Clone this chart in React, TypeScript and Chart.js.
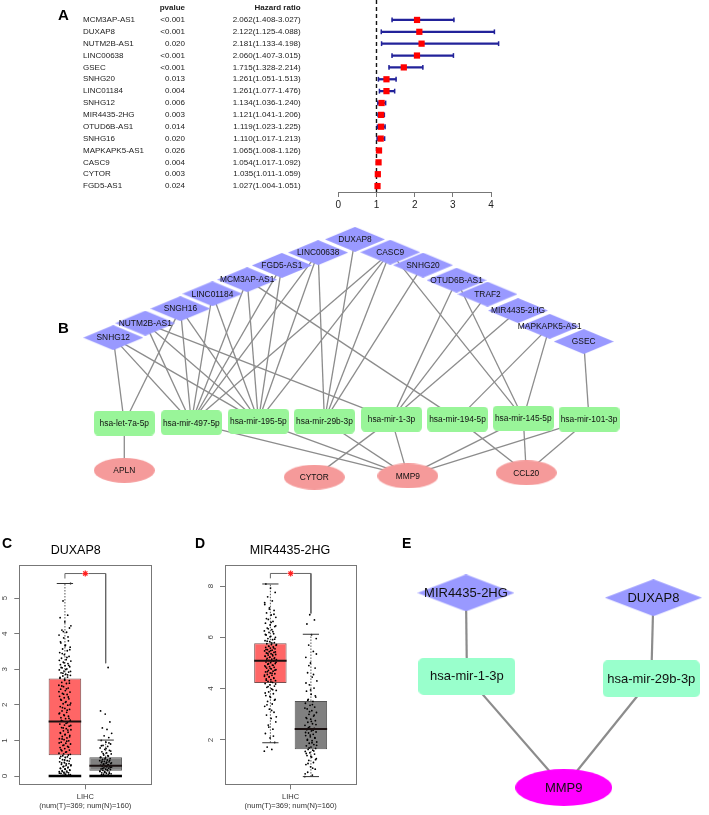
import React, { useEffect, useRef } from 'react';
import { Chart, registerables } from 'chart.js';
Chart.register(...registerables);

const FONT = '"Liberation Sans", Arial, Helvetica, sans-serif';

// ---------------- Panel A : forest plot ----------------
const forestGenes = ['MCM3AP-AS1','DUXAP8','NUTM2B-AS1','LINC00638','GSEC','SNHG20','LINC01184','SNHG12','MIR4435-2HG','OTUD6B-AS1','SNHG16','MAPKAPK5-AS1','CASC9','CYTOR','FGD5-AS1'];
const forestPvalues = ['<0.001','<0.001','0.020','<0.001','<0.001','0.013','0.004','0.006','0.003','0.014','0.020','0.026','0.004','0.003','0.024'];
const forestHR = [2.062,2.122,2.181,2.060,1.715,1.261,1.261,1.134,1.121,1.119,1.110,1.065,1.054,1.035,1.027];
const forestLow = [1.408,1.125,1.133,1.407,1.328,1.051,1.077,1.036,1.041,1.023,1.017,1.008,1.017,1.011,1.004];
const forestHigh = [3.027,4.088,4.198,3.015,2.214,1.513,1.476,1.240,1.206,1.225,1.213,1.126,1.092,1.059,1.051];
const forestTicks = [0,1,2,3,4];

// ---------------- Panel B : ceRNA network ----------------
const lncNamesB = ['SNHG12','NUTM2B-AS1','SNGH16','LINC01184','MCM3AP-AS1','FGD5-AS1','LINC00638','DUXAP8','CASC9','SNHG20','OTUD6B-AS1','TRAF2','MIR4435-2HG','MAPKAPK5-AS1','GSEC'];
const lncXB = [109.8,142.3,177.9,210.4,245.6,280.8,317.6,355,390.7,424,458,489.4,520.4,552.5,587];
const lncYB = [336.7,321.7,306.7,291.3,276.7,262,248.7,235,248.3,261.7,277.3,291.7,308.7,325,340.7];
const mirNamesB = ['hsa-let-7a-5p','hsa-mir-497-5p','hsa-mir-195-5p','hsa-mir-29b-3p','hsa-mir-1-3p','hsa-mir-194-5p','hsa-mir-145-5p','hsa-mir-101-3p'];
const mirXB = [121,189,257,324,392,459,525.7,592.4];
const mirYB = [425,424.7,423,423,421,421,420,421];
const mrnaNamesB = ['APLN','CYTOR','MMP9','CCL20'];
const mrnaXB = [121,313.7,408.6,528.7];
const mrnaYB = [474,481,479.7,476.5];
const edgesB: [string, string][] = [
  ['SNHG12','hsa-let-7a-5p'],['SNGH16','hsa-let-7a-5p'],
  ['SNHG12','hsa-mir-497-5p'],['NUTM2B-AS1','hsa-mir-497-5p'],['SNGH16','hsa-mir-497-5p'],['LINC01184','hsa-mir-497-5p'],
  ['MCM3AP-AS1','hsa-mir-497-5p'],['FGD5-AS1','hsa-mir-497-5p'],['LINC00638','hsa-mir-497-5p'],['CASC9','hsa-mir-497-5p'],
  ['SNHG12','hsa-mir-195-5p'],['NUTM2B-AS1','hsa-mir-195-5p'],['SNGH16','hsa-mir-195-5p'],['LINC01184','hsa-mir-195-5p'],
  ['MCM3AP-AS1','hsa-mir-195-5p'],['FGD5-AS1','hsa-mir-195-5p'],['LINC00638','hsa-mir-195-5p'],['CASC9','hsa-mir-195-5p'],
  ['LINC00638','hsa-mir-29b-3p'],['DUXAP8','hsa-mir-29b-3p'],['CASC9','hsa-mir-29b-3p'],['SNHG20','hsa-mir-29b-3p'],
  ['NUTM2B-AS1','hsa-mir-1-3p'],['OTUD6B-AS1','hsa-mir-1-3p'],['TRAF2','hsa-mir-1-3p'],['MIR4435-2HG','hsa-mir-1-3p'],
  ['MCM3AP-AS1','hsa-mir-194-5p'],['MAPKAPK5-AS1','hsa-mir-194-5p'],
  ['CASC9','hsa-mir-145-5p'],['OTUD6B-AS1','hsa-mir-145-5p'],['MAPKAPK5-AS1','hsa-mir-145-5p'],
  ['GSEC','hsa-mir-101-3p'],
  ['hsa-let-7a-5p','APLN'],['hsa-mir-497-5p','MMP9'],['hsa-mir-195-5p','MMP9'],['hsa-mir-29b-3p','MMP9'],
  ['hsa-mir-1-3p','CYTOR'],['hsa-mir-1-3p','MMP9'],['hsa-mir-194-5p','CCL20'],['hsa-mir-145-5p','MMP9'],
  ['hsa-mir-145-5p','CCL20'],['hsa-mir-101-3p','MMP9'],['hsa-mir-101-3p','CCL20'],
];

// ---------------- Panel C / D : expression box plots ----------------
// five-number summaries: [lower whisker, Q1, median, Q3, upper whisker]
const duxTumorBox = [0, 0.58, 1.53, 2.74, 5.41];
const duxNormalBox = [0, 0.15, 0.29, 0.53, 1.01];
const duxTicks = [0,1,2,3,4,5];
const duxTumorDots = [0,0,0,0,0,0,0.01,0.02,0.04,0.05,0.07,0.09,0.1,0.12,0.14,0.15,0.17,0.2,0.22,0.23,0.26,0.29,0.3,0.33,0.35,0.38,0.4,0.43,0.46,0.49,0.52,0.55,
  0.59,0.62,0.64,0.68,0.71,0.73,0.77,0.8,0.83,0.86,0.9,0.92,0.95,0.99,1.02,1.05,1.07,1.11,1.14,1.17,1.2,1.23,1.27,1.3,1.33,1.36,1.4,1.43,1.46,1.5,
  1.54,1.57,1.61,1.64,1.68,1.72,1.75,1.79,1.83,1.87,1.9,1.95,1.99,2.03,2.05,2.09,2.13,2.17,2.2,2.24,2.29,2.32,2.36,2.4,2.44,2.47,2.51,2.55,2.6,2.63,2.68,2.72,
  2.75,2.78,2.81,2.83,2.86,2.9,2.92,2.95,2.98,3.01,3.04,3.07,3.1,3.13,3.16,3.2,3.23,3.27,3.31,3.36,3.41,3.47,3.52,3.57,3.62,3.68,3.74,3.8,3.88,3.96,4.04,4.1,4.16,4.33,4.45,4.52,4.92,5.41,
  0,0,0.03,0.06,0.08,0.11,0.13,0.16,0.19,0.21,0.25,0.27,0.31,0.34,0.37,0.42,0.45,0.5,0.54,0.57,0.61,0.67,0.74,0.81,0.87,0.93,0.98,1.04,1.1,1.16,1.22,1.29,1.35,
  1.42,1.48,1.56,1.62,1.7,1.77,1.85,1.92,2.0,2.07,2.15,2.22,2.3,2.37,2.45,2.53,2.61,2.69,2.77,2.84,2.89,2.94,2.99,3.05,3.11,3.18,3.25,3.33,3.44,3.55,3.66,3.77,3.91,4.06,4.22];
const duxNormalDots = [0,0,0,0,0,0.01,0.03,0.05,0.06,0.08,0.09,0.11,0.12,0.14,0.15,0.16,0.18,0.19,0.2,0.22,0.23,0.25,0.26,0.27,0.28,0.29,0.3,0.32,0.33,0.35,0.36,0.38,
  0.4,0.41,0.43,0.45,0.47,0.49,0.51,0.53,0.56,0.59,0.62,0.65,0.68,0.72,0.75,0.79,0.83,0.86,0.9,0.95,1.0,1.08,1.13,1.2,1.31,1.35,1.52,1.74,1.83,3.05,
  0,0,0.02,0.04,0.07,0.1,0.13,0.17,0.21,0.24,0.27,0.3,0.31,0.34,0.37,0.39,0.42,0.44,0.48,0.52,0.57,0.63,0.7,0.77,0.85,0.93];
const mirTumorBox = [1.89, 4.22, 5.09, 5.77, 8.08];
const mirNormalBox = [0.57, 1.64, 2.43, 3.52, 6.12];
const mirTicks = [2,4,6,8];
const mirTumorDots = [1.56,1.63,1.72,1.9,2.08,2.25,2.42,2.58,2.7,2.84,2.97,3.08,3.2,3.31,3.4,3.5,3.58,3.66,3.73,3.8,3.87,3.93,3.99,4.05,4.1,4.15,4.2,
  4.24,4.28,4.31,4.35,4.38,4.42,4.45,4.48,4.52,4.55,4.58,4.61,4.65,4.68,4.71,4.74,4.77,4.8,4.83,4.86,4.89,4.92,4.95,4.98,5.01,5.04,5.07,
  5.1,5.13,5.15,5.18,5.2,5.23,5.26,5.28,5.31,5.33,5.36,5.39,5.41,5.44,5.47,5.5,5.52,5.55,5.58,5.61,5.63,5.66,5.69,5.72,5.75,
  5.79,5.83,5.87,5.91,5.95,6.0,6.04,6.09,6.14,6.19,6.25,6.3,6.36,6.42,6.48,6.55,6.62,6.7,6.78,6.87,6.95,7.05,7.15,7.28,7.42,7.58,7.75,7.92,8.08,
  2.15,2.5,2.9,3.15,3.37,3.55,3.7,3.83,3.96,4.08,4.18,4.26,4.33,4.4,4.47,4.53,4.6,4.66,4.72,4.79,4.85,4.91,4.97,5.03,5.08,5.12,5.17,5.22,5.27,5.32,
  5.37,5.43,5.48,5.53,5.59,5.65,5.71,5.78,5.85,5.93,6.02,6.11,6.22,6.33,6.45,6.58,6.73,6.9,7.1,7.35];
const mirNormalDots = [0.57,0.63,0.74,0.86,0.95,1.04,1.12,1.2,1.27,1.33,1.39,1.45,1.5,1.55,1.6,1.63,
  1.67,1.72,1.77,1.82,1.87,1.92,1.97,2.02,2.07,2.12,2.17,2.22,2.27,2.31,2.35,2.4,
  2.45,2.51,2.57,2.63,2.69,2.75,2.81,2.87,2.93,3.0,3.07,3.14,3.21,3.28,3.35,3.43,3.5,
  3.58,3.67,3.78,3.9,4.02,4.15,4.3,4.45,4.62,4.8,5.0,5.22,5.45,5.7,5.95,6.1,6.52,6.68,6.88,
  0.68,0.9,1.08,1.23,1.36,1.47,1.57,1.69,1.79,1.89,1.99,2.09,2.19,2.29,2.38,2.48,2.6,2.72,2.84,2.97,3.1,3.24,3.38,3.55,3.72,3.95,4.22,4.55,4.9,5.35];
const boxXLabel = ['LIHC', '(num(T)=369; num(N)=160)'];
// significance bracket: [bar height, left arm end, right arm end]
const duxBracket = [5.69, 5.55, 3.17];
const mirBracket = [8.49, 8.3, 6.93];

// ---------------- Panel E : sub-network ----------------
const lncNamesE = ['MIR4435-2HG','DUXAP8'];
const lncXE = [463, 656.7];
const lncYE = [590, 595];
const mirNamesE = ['hsa-mir-1-3p','hsa-mir-29b-3p'];
const mirXE = [464, 654.5];
const mirYE = [676.5, 679];
const mrnaNamesE = ['MMP9'];
const mrnaXE = [564];
const mrnaYE = [791.7];
const edgesE: [string, string][] = [
  ['MIR4435-2HG','hsa-mir-1-3p'],['DUXAP8','hsa-mir-29b-3p'],['hsa-mir-1-3p','MMP9'],['hsa-mir-29b-3p','MMP9'],
];

// ---------------- helpers ----------------
function makeShape(kind: string, w: number, h: number, fill: string) {
  const c = document.createElement('canvas');
  c.width = w; c.height = h;
  const ctx = c.getContext('2d')!;
  ctx.fillStyle = fill;
  ctx.beginPath();
  if (kind === 'diamond') {
    ctx.moveTo(w / 2, 0); ctx.lineTo(w, h / 2); ctx.lineTo(w / 2, h); ctx.lineTo(0, h / 2); ctx.closePath();
  } else if (kind === 'rect') {
    (ctx as any).roundRect(0, 0, w, h, Math.min(5, h / 6));
  } else {
    ctx.ellipse(w / 2, h / 2, w / 2, h / 2, 0, 0, Math.PI * 2);
  }
  ctx.fill();
  return c;
}

const nodeLabelPlugin = {
  id: 'nodeLabels',
  afterDatasetsDraw(chart: any) {
    const ctx = chart.ctx;
    ctx.save();
    chart.data.datasets.forEach((ds: any, i: number) => {
      if (!ds.labels) return;
      const meta = chart.getDatasetMeta(i);
      ctx.font = `${ds.labelSize}px ${FONT}`;
      ctx.fillStyle = '#111';
      ctx.textAlign = 'center';
      ctx.textBaseline = 'middle';
      meta.data.forEach((el: any, j: number) => ctx.fillText(ds.labels[j], el.x, el.y + 0.5));
    });
    ctx.restore();
  },
};

function networkConfig(groups: any[], edges: [string, string][], bounds: number[], edgeWidth: number, fontSize: number) {
  const pos: Record<string, { x: number; y: number }> = {};
  groups.forEach((g) => g.names.forEach((n: string, i: number) => { pos[n] = { x: g.xs[i], y: g.ys[i] }; }));
  const edgeSets = edges.map(([a, b]) => ({
    type: 'line', data: [pos[a], pos[b]], borderColor: '#8c8c8c', borderWidth: edgeWidth,
    pointRadius: 0, fill: false, order: 10, clip: false,
  }));
  const nodeSets = groups.map((g) => ({
    type: 'scatter',
    data: g.names.map((n: string, i: number) => ({ x: g.xs[i], y: g.ys[i] })),
    pointStyle: makeShape(g.kind, g.w, g.h, g.color),
    pointRadius: 4, order: 1, clip: false,
    labels: g.names, labelSize: fontSize,
  }));
  return {
    type: 'scatter',
    data: { datasets: [...edgeSets, ...nodeSets] },
    options: {
      responsive: false, animation: false, events: [],
      layout: { padding: 0 },
      plugins: { legend: { display: false }, tooltip: { enabled: false } },
      scales: {
        x: { type: 'linear', display: false, min: bounds[0], max: bounds[1] },
        y: { type: 'linear', display: false, min: bounds[2], max: bounds[3], reverse: true },
      },
    },
    plugins: [nodeLabelPlugin],
  };
}

function forestConfig() {
  const navy = '#22229a';
  const forestPlugin = {
    id: 'forestDeco',
    beforeDatasetsDraw(chart: any) {
      const { ctx, chartArea, scales } = chart;
      const xs = scales.x; const ys = scales.y;
      ctx.save();
      const x1 = xs.getPixelForValue(1);
      ctx.setLineDash([4, 3]); ctx.strokeStyle = '#111'; ctx.lineWidth = 1.4;
      ctx.beginPath(); ctx.moveTo(x1, 0); ctx.lineTo(x1, chartArea.bottom); ctx.stroke();
      ctx.setLineDash([]); ctx.strokeStyle = '#777'; ctx.lineWidth = 1;
      ctx.beginPath();
      ctx.moveTo(Math.round(xs.getPixelForValue(forestTicks[0])), Math.round(chartArea.bottom) + 0.5);
      ctx.lineTo(Math.round(xs.getPixelForValue(forestTicks[forestTicks.length - 1])) + 0.5, Math.round(chartArea.bottom) + 0.5);
      ctx.stroke();
      ctx.fillStyle = '#222'; ctx.font = `8px ${FONT}`; ctx.textBaseline = 'middle';
      forestGenes.forEach((g, i) => {
        const py = ys.getPixelForValue(i);
        ctx.textAlign = 'left'; ctx.fillText(g, 83, py);
        ctx.textAlign = 'right'; ctx.fillText(forestPvalues[i], 185, py);
        ctx.fillText(`${forestHR[i].toFixed(3)}(${forestLow[i].toFixed(3)}-${forestHigh[i].toFixed(3)})`, 300.7, py);
      });
      ctx.font = `bold 8px ${FONT}`; ctx.textAlign = 'right';
      ctx.fillText('pvalue', 185, 7.5);
      ctx.fillText('Hazard ratio', 300.7, 7.5);
      ctx.restore();
    },
  };
  return {
    type: 'bar',
    data: {
      labels: forestGenes,
      datasets: [
        { type: 'scatter', data: forestGenes.map((g, i) => ({ x: forestHR[i], y: g })), pointStyle: 'rect',
          pointRadius: 4.4, pointBackgroundColor: '#ff0000', pointBorderWidth: 0, order: 1, clip: false },
        { type: 'scatter', data: forestGenes.flatMap((g, i) => [{ x: forestLow[i], y: g }, { x: forestHigh[i], y: g }]),
          pointStyle: 'line', pointRotation: 90, pointRadius: 2.4, pointBorderColor: navy, pointBorderWidth: 1.5, order: 2, clip: false },
        { type: 'bar', data: forestGenes.map((g, i) => [forestLow[i], forestHigh[i]]), backgroundColor: navy,
          barThickness: 1.6, borderWidth: 0, order: 3, clip: false },
      ],
    },
    options: {
      indexAxis: 'y', responsive: false, animation: false, events: [],
      layout: { padding: { left: 338.3, right: 208.4, top: 14, bottom: 2 } },
      plugins: { legend: { display: false }, tooltip: { enabled: false } },
      scales: {
        x: {
          type: 'linear', min: 0, max: 4.25,
          afterBuildTicks: (s: any) => { s.ticks = forestTicks.map((v) => ({ value: v })); },
          border: { display: false },
          grid: { display: true, drawOnChartArea: false, drawTicks: true, tickLength: 5, color: '#777', offset: false },
          ticks: { font: { family: FONT, size: 10 }, color: '#222', padding: 2, maxRotation: 0, autoSkip: false },
        },
        y: { type: 'category', display: false, offset: true, grid: { offset: true } },
      },
    },
    plugins: [forestPlugin],
  };
}

function boxConfig(tBox: number[], nBox: number[], tDots: number[], nDots: number[], yMin: number, yMax: number,
  yTicks: number[], bracket: number[], wideBottom: boolean) {
  const seg = (pts: any[], color: string, width: number, order: number, dash: number[] = []) => ({
    type: 'line', data: pts, borderColor: color, borderWidth: width, borderDash: dash,
    pointRadius: 0, fill: false, order, clip: false,
  });
  const boxes = [tBox, nBox];
  const centers = [1, 2];
  const sets: any[] = [];
  sets.push({
    type: 'bar', data: boxes.map((b, i) => ({ x: centers[i], y: [b[1], b[3]] })),
    backgroundColor: ['#ff6666', '#808080'], borderColor: ['#7a5050', '#555555'], borderWidth: 1,
    borderSkipped: false, barPercentage: 0.8, categoryPercentage: 1, order: 20,
  });
  boxes.forEach((b, i) => {
    const c = centers[i];
    sets.push(seg([{ x: c, y: b[3] }, { x: c, y: b[4] }], '#555', 1, 15, [1.5, 1.5]));
    sets.push(seg([{ x: c, y: b[0] }, { x: c, y: b[1] }], '#555', 1, 15, [1.5, 1.5]));
    sets.push(seg([{ x: c - 0.4, y: b[2] }, { x: c + 0.4, y: b[2] }], '#1a1010', 2, 2));
    sets.push(seg([{ x: c - 0.2, y: b[4] }, { x: c + 0.2, y: b[4] }], '#333', 1, 2));
    if (wideBottom) sets.push(seg([{ x: c - 0.4, y: b[0] }, { x: c + 0.4, y: b[0] }], '#000', 2.5, 2));
    else sets.push(seg([{ x: c - 0.2, y: b[0] }, { x: c + 0.2, y: b[0] }], '#333', 1, 2));
  });
  const dots = [tDots, nDots];
  dots.forEach((d, i) => {
    sets.push({
      type: 'scatter',
      data: d.map((v, k) => ({ x: centers[i] + (((k * 0.6180339887) % 1) - 0.5) * 0.3, y: v })),
      pointRadius: 0.9, pointBackgroundColor: '#000', pointBorderWidth: 0, order: 5,
    });
  });
  sets.push(seg([{ x: 1, y: bracket[1] }, { x: 1, y: bracket[0] }, { x: 1.42, y: bracket[0] }], '#666', 1, 3));
  sets.push(seg([{ x: 1.58, y: bracket[0] }, { x: 2, y: bracket[0] }, { x: 2, y: bracket[2] }], '#666', 1, 3));
  sets.push({ type: 'scatter', data: [{ x: 1.5, y: bracket[0] }], pointStyle: 'star', pointRadius: 3,
    pointBorderColor: '#ff2222', pointBorderWidth: 1.2, order: 0 });

  const rotYPlugin = {
    id: 'rotY',
    afterDraw(chart: any) {
      const s = chart.scales.y; const ctx = chart.ctx;
      ctx.save();
      ctx.font = `8px ${FONT}`; ctx.fillStyle = '#444'; ctx.textAlign = 'center'; ctx.textBaseline = 'middle';
      s.ticks.forEach((t: any) => {
        const py = s.getPixelForValue(t.value);
        ctx.save(); ctx.translate(chart.chartArea.left - 14.5, py); ctx.rotate(-Math.PI / 2);
        ctx.fillText(String(t.value), 0, 0); ctx.restore();
      });
      ctx.restore();
    },
  };
  const frame = { display: true, color: '#777', width: 1 };
  return {
    type: 'bar',
    data: { datasets: sets },
    options: {
      responsive: false, animation: false, events: [],
      plugins: { legend: { display: false }, tooltip: { enabled: false } },
      scales: {
        x: {
          type: 'linear', position: 'bottom', min: -0.12, max: 3.13, offset: false,
          afterBuildTicks: (s: any) => { s.ticks = [{ value: 1.5 }]; },
          ticks: { callback: () => boxXLabel, font: { family: FONT, size: 7.5 }, color: '#333', padding: 3.5, maxRotation: 0, autoSkip: false },
          grid: { display: true, drawOnChartArea: false, drawTicks: true, tickLength: 5, color: '#777', offset: false },
          border: frame,
        },
        y: {
          type: 'linear', position: 'left', min: yMin, max: yMax,
          afterBuildTicks: (s: any) => { s.ticks = yTicks.map((v) => ({ value: v })); },
          ticks: { display: false },
          grid: { display: true, drawOnChartArea: false, drawTicks: true, tickLength: 5, color: '#777' },
          border: frame,
        },
        x2: { type: 'linear', position: 'top', min: -0.12, max: 3.13, ticks: { display: false }, grid: { display: false, drawTicks: false }, border: frame },
        y2: { type: 'linear', position: 'right', min: yMin, max: yMax, ticks: { display: false }, grid: { display: false, drawTicks: false }, border: frame },
      },
    },
    plugins: [rotYPlugin],
  };
}

function ChartCanvas({ left, top, width, height, make }: { left: number; top: number; width: number; height: number; make: () => any }) {
  const ref = useRef<HTMLCanvasElement>(null);
  useEffect(() => {
    const chart = new Chart(ref.current as HTMLCanvasElement, make());
    return () => chart.destroy();
  }, []);
  return <canvas ref={ref} width={width} height={height} style={{ position: 'absolute', left, top, width, height }} />;
}

function Txt({ x, baseline, size, bold, children, center }: any) {
  const top = baseline - 0.8465 * size;
  const style: any = {
    position: 'absolute', top, fontFamily: FONT, fontSize: size, lineHeight: 1, fontWeight: bold ? 'bold' : 'normal',
    color: '#000', whiteSpace: 'nowrap',
  };
  if (center) { style.left = x - 100; style.width = 200; style.textAlign = 'center'; } else { style.left = x; }
  return <div style={style}>{children}</div>;
}

export default function App() {
  const netB = () => networkConfig([
    { names: lncNamesB, xs: lncXB, ys: lncYB, kind: 'diamond', w: 60, h: 25, color: '#9999ff' },
    { names: mirNamesB, xs: mirXB, ys: mirYB, kind: 'rect', w: 61, h: 25, color: '#99f599' },
    { names: mrnaNamesB, xs: mrnaXB, ys: mrnaYB, kind: 'ellipse', w: 61, h: 25, color: '#f59a9a' },
  ], edgesB, [0, 709, 215, 515], 1.3, 8.4);
  const netE = () => networkConfig([
    { names: lncNamesE, xs: lncXE, ys: lncYE, kind: 'diamond', w: 97, h: 37, color: '#9999ff' },
    { names: mirNamesE, xs: mirXE, ys: mirYE, kind: 'rect', w: 97, h: 37, color: '#99ffcc' },
    { names: mrnaNamesE, xs: mrnaXE, ys: mrnaYE, kind: 'ellipse', w: 97, h: 37, color: '#ff00ff' },
  ], edgesE, [400, 709, 530, 815], 2.2, 13);
  const boxC = () => boxConfig(duxTumorBox, duxNormalBox, duxTumorDots, duxNormalDots, -0.233, 5.93, duxTicks, duxBracket, true);
  const boxD = () => boxConfig(mirTumorBox, mirNormalBox, mirTumorDots, mirNormalDots, 0.27, 8.82, mirTicks, mirBracket, false);
  const withPad = (cfg: any, pad: any) => { cfg.options.layout = { padding: pad }; return cfg; };
  return (
    <div style={{ position: 'absolute', left: 0, top: 0, width: 709, height: 815, background: '#fff', overflow: 'hidden' }}>
      <ChartCanvas left={0} top={0} width={709} height={215} make={forestConfig} />
      <ChartCanvas left={0} top={215} width={709} height={300} make={netB} />
      <ChartCanvas left={0} top={530} width={222} height={285} make={() => withPad(boxC(), { left: 14.3, right: 70.3, top: 35, bottom: 0.7 })} />
      <ChartCanvas left={200} top={530} width={200} height={285} make={() => withPad(boxD(), { left: 20, right: 43.3, top: 35, bottom: 0.7 })} />
      <ChartCanvas left={400} top={530} width={309} height={285} make={netE} />
      <Txt x={58} baseline={20} size={15} bold>A</Txt>
      <Txt x={58} baseline={333} size={15} bold>B</Txt>
      <Txt x={2} baseline={548} size={14} bold>C</Txt>
      <Txt x={195} baseline={548} size={14} bold>D</Txt>
      <Txt x={402} baseline={548} size={14} bold>E</Txt>
      <Txt x={75.7} baseline={555} size={12.5} center>DUXAP8</Txt>
      <Txt x={290} baseline={555} size={12.5} center>MIR4435-2HG</Txt>
    </div>
  );
}
